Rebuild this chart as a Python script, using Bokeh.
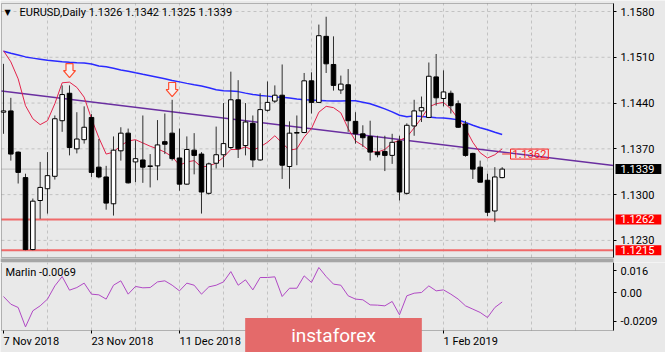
from bokeh.plotting import figure
from bokeh.models import (Range1d, FixedTicker, Label, ColumnDataSource, LinearAxis,
                          NumeralTickFormatter, BoxAnnotation)
from bokeh.layouts import column
from bokeh.embed import file_html
from bokeh.resources import INLINE
from bokeh.core.properties import value

# ---------------- data ----------------
symbol = "EURUSD,Daily"

opens = [1.1426, 1.1428, 1.1365, 1.1326, 1.1216, 1.1291, 1.1309, 1.1328, 1.1413, 1.1455,
         1.1370, 1.1384, 1.1418, 1.1342, 1.1327, 1.1286, 1.1367, 1.1394, 1.1350, 1.1353,
         1.1343, 1.1344, 1.1381, 1.1394, 1.1356, 1.1316, 1.1368, 1.1362, 1.1302, 1.1348,
         1.1361, 1.1372, 1.1445, 1.1375, 1.1409, 1.1353, 1.1429, 1.1443, 1.1452, 1.1343,
         1.1394, 1.1395, 1.1474, 1.1441, 1.1542, 1.1499, 1.1460, 1.1468, 1.1412, 1.1393,
         1.1389, 1.1365, 1.1366, 1.1360, 1.1382, 1.1302, 1.1405, 1.1428, 1.1418, 1.1480,
         1.1447, 1.1455, 1.1439, 1.1408, 1.1363, 1.1342, 1.1322, 1.1275, 1.1326]
highs = [1.1500, 1.1448, 1.1366, 1.1332, 1.1294, 1.1350, 1.1365, 1.1421, 1.1467, 1.1467,
         1.1426, 1.1435, 1.1423, 1.1385, 1.1344, 1.1389, 1.1403, 1.1401, 1.1383, 1.1421,
         1.1362, 1.1414, 1.1424, 1.1445, 1.1401, 1.1389, 1.1394, 1.1365, 1.1349, 1.1404,
         1.1440, 1.1488, 1.1475, 1.1440, 1.1421, 1.1455, 1.1473, 1.1467, 1.1499, 1.1412,
         1.1421, 1.1486, 1.1487, 1.1560, 1.1572, 1.1542, 1.1482, 1.1492, 1.1426, 1.1406,
         1.1413, 1.1390, 1.1390, 1.1393, 1.1390, 1.1409, 1.1445, 1.1450, 1.1502, 1.1515,
         1.1490, 1.1459, 1.1444, 1.1413, 1.1364, 1.1352, 1.1332, 1.1342, 1.1342]
lows = [1.1393, 1.1352, 1.1317, 1.1215, 1.1215, 1.1263, 1.1271, 1.1323, 1.1396, 1.1360,
        1.1363, 1.1378, 1.1327, 1.1325, 1.1277, 1.1268, 1.1352, 1.1317, 1.1319, 1.1318,
        1.1311, 1.1322, 1.1362, 1.1352, 1.1306, 1.1315, 1.1331, 1.1271, 1.1300, 1.1340,
        1.1342, 1.1370, 1.1356, 1.1360, 1.1342, 1.1352, 1.1427, 1.1440, 1.1324, 1.1309,
        1.1345, 1.1394, 1.1424, 1.1440, 1.1486, 1.1459, 1.1454, 1.1396, 1.1378, 1.1373,
        1.1352, 1.1357, 1.1336, 1.1347, 1.1291, 1.1300, 1.1390, 1.1411, 1.1417, 1.1436,
        1.1435, 1.1424, 1.1402, 1.1358, 1.1324, 1.1319, 1.1267, 1.1258, 1.1325]
closes = [1.1428, 1.1362, 1.1334, 1.1216, 1.1290, 1.1311, 1.1329, 1.1416, 1.1453, 1.1372,
          1.1385, 1.1403, 1.1334, 1.1327, 1.1287, 1.1368, 1.1394, 1.1318, 1.1355, 1.1342,
          1.1344, 1.1376, 1.1377, 1.1355, 1.1316, 1.1369, 1.1360, 1.1304, 1.1347, 1.1361,
          1.1378, 1.1445, 1.1370, 1.1411, 1.1353, 1.1430, 1.1441, 1.1452, 1.1345, 1.1394,
          1.1395, 1.1474, 1.1441, 1.1543, 1.1500, 1.1467, 1.1469, 1.1413, 1.1393, 1.1387,
          1.1365, 1.1361, 1.1360, 1.1380, 1.1304, 1.1406, 1.1428, 1.1433, 1.1481, 1.1448,
          1.1457, 1.1436, 1.1403, 1.1360, 1.1339, 1.1319, 1.1273, 1.1327, 1.1339]

red_ma = [1.1520, 1.1503, 1.1477, 1.1436, 1.1416, 1.1407, 1.1413, 1.1439, 1.1471, 1.1472,
          1.1464, 1.1449, 1.1416, 1.1387, 1.1362, 1.1365, 1.1375, 1.1382, 1.1384, 1.1379,
          1.1374, 1.1370, 1.1365, 1.1358, 1.1345, 1.1350, 1.1352, 1.1342, 1.1344, 1.1348,
          1.1357, 1.1369, 1.1369, 1.1373, 1.1368, 1.1373, 1.1380, 1.1390, 1.1379, 1.1368,
          1.1370, 1.1388, 1.1401, 1.1426, 1.1435, 1.1433, 1.1425, 1.1401, 1.1382, 1.1375,
          1.1366, 1.1365, 1.1369, 1.1379, 1.1383, 1.1388, 1.1402, 1.1417, 1.1434, 1.1439,
          1.1441, 1.1431, 1.1416, 1.1401, 1.1380, 1.1364, 1.1356, 1.1361, 1.1370]
blue_ma = [1.15191, 1.15162, 1.15135, 1.15106, 1.15087, 1.15071, 1.15055, 1.15043, 1.15031, 1.15023,
           1.15017, 1.15013, 1.14996, 1.14967, 1.14954, 1.14931, 1.14907, 1.14887, 1.14863, 1.14840,
           1.14818, 1.14795, 1.14771, 1.14746, 1.14724, 1.14701, 1.14679, 1.14661, 1.14633, 1.14604,
           1.14589, 1.14583, 1.14575, 1.14552, 1.14532, 1.14517, 1.14506, 1.14494, 1.14487, 1.14477,
           1.14462, 1.14450, 1.14445, 1.14441, 1.14436, 1.14432, 1.14430, 1.14435, 1.14435, 1.14412,
           1.14389, 1.14352, 1.14311, 1.14265, 1.14213, 1.14190, 1.14204, 1.14193, 1.14185, 1.14176,
           1.14172, 1.14159, 1.14143, 1.14104, 1.14060, 1.14023, 1.13991, 1.13953, 1.13919]
marlin = [-0.0029, -0.0085, -0.0109, -0.0250, -0.0133, -0.0097, -0.0048, 0.0048, 0.0116, 0.0017,
          0.0036, 0.0068, -0.0012, -0.0017, -0.0048, 0.0053, 0.0085, -0.0012, 0.0044, 0.0034,
          0.0036, 0.0077, 0.0085, 0.0053, 0.0012, 0.0068, 0.0053, -0.0012, 0.0041, 0.0053,
          0.0077, 0.0152, 0.0053, 0.0092, 0.0019, 0.0109, 0.0109, 0.0114, -0.0029, 0.0031,
          0.0031, 0.0121, 0.0073, 0.0182, 0.0116, 0.0061, 0.0053, -0.0024, -0.0048, -0.0053,
          -0.0090, -0.0092, -0.0097, -0.0065, -0.0162, -0.0024, -0.0005, 0.0000, 0.0048, 0.0012,
          0.0019, -0.0012, -0.0048, -0.0097, -0.0121, -0.0145, -0.0182, -0.0109, -0.0069]

trend_bars = [0, 68]
trend_prices = [1.14581, 1.13652]
arrow_bars = [9, 23]
arrow_prices = [1.1479, 1.1450]
level_lines = [1.1262, 1.1215]
ma_label_value = 1.1362

price_ticks = [1.1230, 1.1300, 1.1370, 1.1440, 1.1510, 1.1580]
date_tick_bars = [0, 12, 24, 36, 48, 60]
date_tick_labels = ["7 Nov 2018", "23 Nov 2018", "11 Dec 2018", "28 Dec 2018", "16 Jan 2019", "1 Feb 2019"]
marlin_ticks = [0.016, 0.0, -0.0209]
marlin_tick_labels = ["0.016", "0.00", "-0.0209"]

# ---------------- layout constants (pixels) ----------------
BG = "#e9e9e9"
FONT = "Roboto"
FS = "11px"
GRID = "#c2c2c2"
BORDER = "#303030"

W, H1, H2 = 665, 262, 90
PX_BAR, X0_PX = 7.3333, 3.0            # bar spacing, canvas x of first bar
PX_PRICE, REF_PRICE, REF_PX = 6540.0, 1.1580, 11.0
PX_MARLIN, ZERO_PX = 1375.0, 30.0       # indicator scale, zero line inside lower panel


def bx(px):
    return (px - X0_PX) / PX_BAR


def py(px):
    return REF_PRICE - (px - REF_PX) / PX_PRICE


def my(px):
    return (ZERO_PX - px) / PX_MARLIN


n = len(opens)
bars = list(range(n))
xr = Range1d(bx(0), bx(W))
xL, xR = bx(1), bx(613)
yT, yB = py(3), py(257)
vT, vB = my(0), my(68)
grid_bars = list(range(6, 84, 6))


def make_fig(h, yrange):
    f = figure(width=W, height=h, x_range=xr, y_range=yrange, output_backend="svg",
               toolbar_location=None, x_axis_location=None, y_axis_location=None,
               min_border_left=0, min_border_right=0, min_border_top=0, min_border_bottom=0,
               background_fill_color=BG, border_fill_color=BG, outline_line_color=None)
    f.grid.visible = False
    return f


def style_axis(ax):
    ax.major_tick_out = 3
    ax.major_tick_in = 0
    ax.minor_tick_out = 0
    ax.minor_tick_in = 0
    ax.major_label_standoff = 4
    ax.major_label_text_font = FONT
    ax.major_label_text_font_size = FS
    ax.major_label_text_color = "black"
    ax.axis_line_color = "black"
    ax.major_tick_line_color = "black"


# ================= main price panel =================
p = make_fig(H1, Range1d(py(H1), py(0)))

pax = LinearAxis(fixed_location=xR, bounds=(yB, yT), ticker=FixedTicker(ticks=price_ticks),
                 formatter=NumeralTickFormatter(format="0.0000"))
style_axis(pax)
p.add_layout(pax, "right")

# grid
p.segment(x0=grid_bars, y0=[yB] * len(grid_bars), x1=grid_bars, y1=[yT] * len(grid_bars),
          line_color=GRID, line_dash="3 3", line_width=1)
p.segment(x0=[xL] * len(price_ticks), y0=price_ticks, x1=[xR] * len(price_ticks), y1=price_ticks,
          line_color=GRID, line_dash="3 3", line_width=1)

# bid line and support levels
p.segment(x0=[xL], y0=[closes[-1]], x1=[xR], y1=[closes[-1]], line_color="#bdbdbd", line_width=1)
p.segment(x0=[xL] * len(level_lines), y0=level_lines, x1=[xR] * len(level_lines), y1=level_lines,
          line_color="#f06a6a", line_width=2)

# trend ray
slope = (trend_prices[1] - trend_prices[0]) / (trend_bars[1] - trend_bars[0])
p.line([xL, xR], [trend_prices[0] + slope * (xL - trend_bars[0]),
                  trend_prices[0] + slope * (xR - trend_bars[0])],
       line_color="#6a2fa0", line_width=1.5)

# moving averages
p.line(bars, blue_ma, line_color="#2a2aff", line_width=1.5)
p.line(bars, red_ma, line_color="#e3234b", line_width=1)

# candles
src = ColumnDataSource(dict(
    x=bars, h=highs, l=lows,
    top=[max(o, c) for o, c in zip(opens, closes)],
    bottom=[min(o, c) for o, c in zip(opens, closes)],
    fill=["white" if c >= o else "black" for o, c in zip(opens, closes)],
))
p.segment(x0="x", y0="h", x1="x", y1="l", source=src, line_color="#303030", line_width=1)
p.vbar(x="x", top="top", bottom="bottom", width=0.62, fill_color="fill",
       line_color="black", line_width=1, source=src)

# hollow down arrows (outline offsets in pixels from the tip)
arrow_shape = [(0, 0), (6, 7), (3.5, 7), (3.5, 14), (-3.5, 14), (-3.5, 7), (-6, 7)]
axs = [[b + dx / PX_BAR for dx, dy in arrow_shape] for b in arrow_bars]
ays = [[t + dy / PX_PRICE for dx, dy in arrow_shape] for t in arrow_prices]
p.patches(axs, ays, fill_color="#f4f0f0", line_color="#ff4d2e", line_width=1.2)

# MA value tag
p.segment(x0=[n - 1], y0=[ma_label_value], x1=[bx(510)], y1=[ma_label_value],
          line_color="#f06a6a", line_width=1.5)
p.add_layout(Label(x=bx(510), y=ma_label_value, text=f"{ma_label_value:.4f}",
                   text_font=FONT, text_font_size=FS, text_color="#ff2020",
                   text_baseline="middle", text_align="left",
                   border_line_color="#ff2020", border_line_width=1,
                   padding=dict(left=2, right=2, top=1, bottom=1)))

# panel frame
p.add_layout(BoxAnnotation(left=xL, right=xR, top=yT, bottom=yB, fill_alpha=0,
                           line_color=BORDER, line_width=1))
# separator between panels
p.add_layout(BoxAnnotation(left=None, right=xR, top=py(258), bottom=None,
                           fill_color="#a6a6a6", fill_alpha=1, line_color=None))

# title
p.add_layout(Label(x=bx(4), y=py(12), text="\u25bc", text_font="DejaVu Sans",
                   text_font_size="8px", text_color="black", text_baseline="middle"))
p.add_layout(Label(x=bx(19), y=py(12),
                   text=f"{symbol}  {opens[-1]:.4f} {highs[-1]:.4f} {lows[-1]:.4f} {closes[-1]:.4f}",
                   text_font=FONT, text_font_size=FS, text_color="black",
                   text_baseline="middle"))


# price boxes on the axis
def axis_box(price, fill):
    p.add_layout(Label(x=xR, y=price, x_offset=2, text=f"{price:.4f}", text_font=FONT,
                       text_font_size=FS, text_color="white", text_baseline="middle",
                       text_align="left", background_fill_color=fill, level="overlay",
                       padding=dict(left=5, right=7, top=1, bottom=1)))


axis_box(closes[-1], "black")
for lv in level_lines:
    axis_box(lv, "#ff0000")

# ================= indicator panel =================
q = make_fig(H2, Range1d(my(H2), my(0)))

qax = LinearAxis(fixed_location=xR, bounds=(vB, vT), ticker=FixedTicker(ticks=marlin_ticks))
qax.major_label_overrides = {t: s for t, s in zip(marlin_ticks, marlin_tick_labels)}
style_axis(qax)
q.add_layout(qax, "right")

q.segment(x0=grid_bars, y0=[vB] * len(grid_bars), x1=grid_bars, y1=[vT] * len(grid_bars),
          line_color=GRID, line_dash="3 3", line_width=1)

q.line(bars, marlin, line_color="#b049c4", line_width=1)

q.add_layout(BoxAnnotation(left=xL, right=xR, top=vT, bottom=vB, fill_alpha=0,
                           line_color=BORDER, line_width=1))

# date ticks and labels
q.segment(x0=date_tick_bars, y0=[vB] * len(date_tick_bars), x1=date_tick_bars,
          y1=[vB - 3 / PX_MARLIN] * len(date_tick_bars), line_color="black", line_width=1)
q.text(x=date_tick_bars, y=[vB] * len(date_tick_bars), text=date_tick_labels,
       text_font=value(FONT), text_font_size=FS, text_color="black",
       text_align="left", text_baseline="top", y_offset=4)

q.add_layout(Label(x=bx(5), y=my(10), text=f"Marlin {marlin[-1]:.4f}", text_font=FONT,
                   text_font_size=FS, text_color="black", text_baseline="middle"))

# watermark
q.add_layout(Label(x=bx(333), y=my(73), text="instaforex", text_font=FONT,
                   text_font_size="19px", text_color="white", text_align="center",
                   text_baseline="middle", background_fill_color="#e46a6a", level="overlay",
                   padding=dict(left=46, right=46, top=6, bottom=6)))

layout = column(p, q, spacing=0)
open("out.html", "w").write(file_html(layout, INLINE))
